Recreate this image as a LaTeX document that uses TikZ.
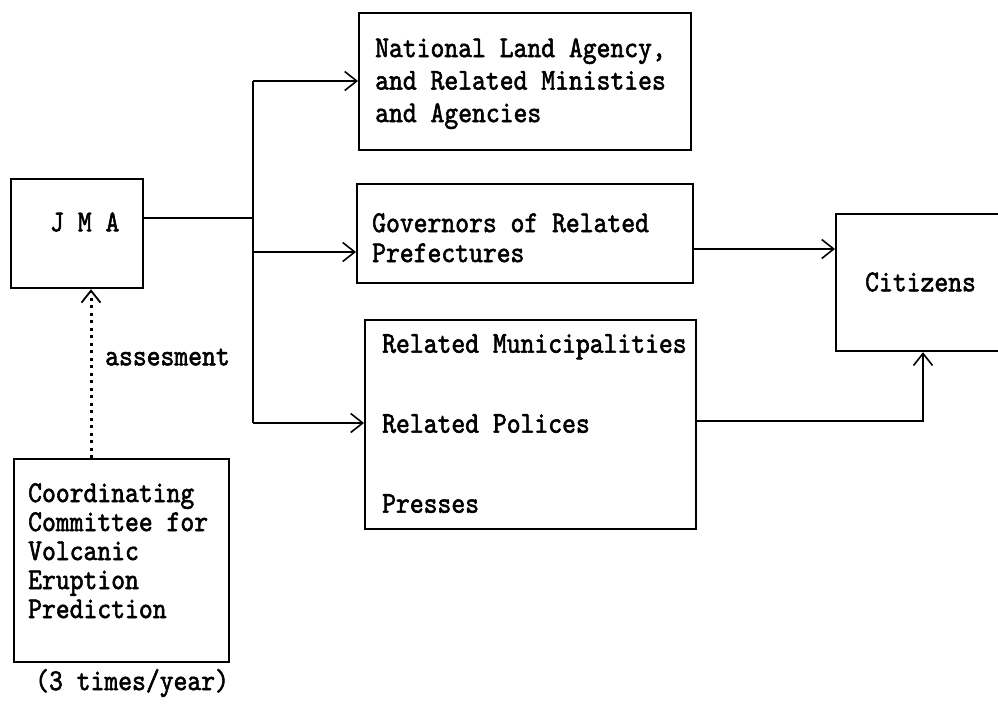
\documentclass[tikz,border=0pt]{standalone}
\usepackage{fontspec}
\newfontfamily\typew[FakeStretch=0.87,FakeBold=1.8]{lmmono10-regular.otf}
\usetikzlibrary{arrows.meta}
\begin{document}
\begin{tikzpicture}[x=1pt,y=-1pt,
  box/.style={draw,line width=2.2pt,rectangle,anchor=north west,inner sep=0pt},
  txt/.style={anchor=north west,inner sep=0pt,align=left},
  lbl/.style={anchor=west,inner sep=0pt},
  con/.style={line width=1.6pt},
  arr/.style={con,-{Straight Barb[length=12pt,width=19pt,line width=1.6pt]}},
  dotarr/.style={line width=3pt,dash pattern=on 3pt off 4.5pt,-{Straight Barb[length=12pt,width=19pt,line width=1.8pt]}}]
\useasboundingbox (0,0) rectangle (998,710);
\tikzset{every node/.append style={font=\typew\fontsize{30.3}{32.5}\selectfont}}

% boxes
\node[box,minimum width=132pt,minimum height=109pt] (jma) at (10,178) {};
\node[box,minimum width=332pt,minimum height=137pt] (top) at (358,12) {};
\node[box,minimum width=336pt,minimum height=99pt] (mid) at (356,183) {};
\node[box,minimum width=331pt,minimum height=209pt] (bot) at (364,319) {};
\node[box,minimum width=200pt,minimum height=137pt] (cit) at (835,213) {};
\node[box,minimum width=215pt,minimum height=203pt] (com) at (13,458) {};

% texts
\node[lbl] (jmat) at (50,222) {J M A};
\node[txt] (topt) at (375,38) {National Land Agency,\\and Related Ministies\\and Agencies};
\node[txt,font=\typew\fontsize{30.3}{30}\selectfont] (midt) at (372,213) {Governors of Related\\Prefectures};
\node[txt,font=\typew\fontsize{30.3}{80}\selectfont] (bott) at (382,334) {Related Municipalities\\Related Polices\\Presses};
\node[lbl] (citt) at (865,282) {Citizens};
\node[txt,font=\typew\fontsize{30.3}{29}\selectfont] (comt) at (28,483) {Coordinating\\Committee for\\Volcanic\\Eruption\\Prediction};
\node[lbl] (freq) at (35,683) {(3 times/year)};
\node[lbl] (ass) at (105,357) {assesment};

% connectors
\coordinate (jo) at (253,218);
\coordinate (t1) at (253,81);
\coordinate (t2) at (253,252);
\coordinate (t3) at (253,423);
\coordinate (mo) at (692,249);
\coordinate (bo) at (923,421);
\coordinate (dx) at (91,0);

\draw[con] (jma.east |- jo) -- (jo);
\draw[con] (t1) -- (t3);
\draw[arr] (t1) -- (top.west |- t1);
\draw[arr] (t2) -- (mid.west |- t2);
\draw[arr] (t3) -- (bot.west |- t3);
\draw[arr] (mid.east |- mo) -- (cit.west |- mo);
\draw[arr] (bot.east |- bo) -- (bo) -- (cit.south -| bo);
\draw[dotarr] (com.north -| dx) -- (jma.south -| dx);
\end{tikzpicture}
\end{document}
